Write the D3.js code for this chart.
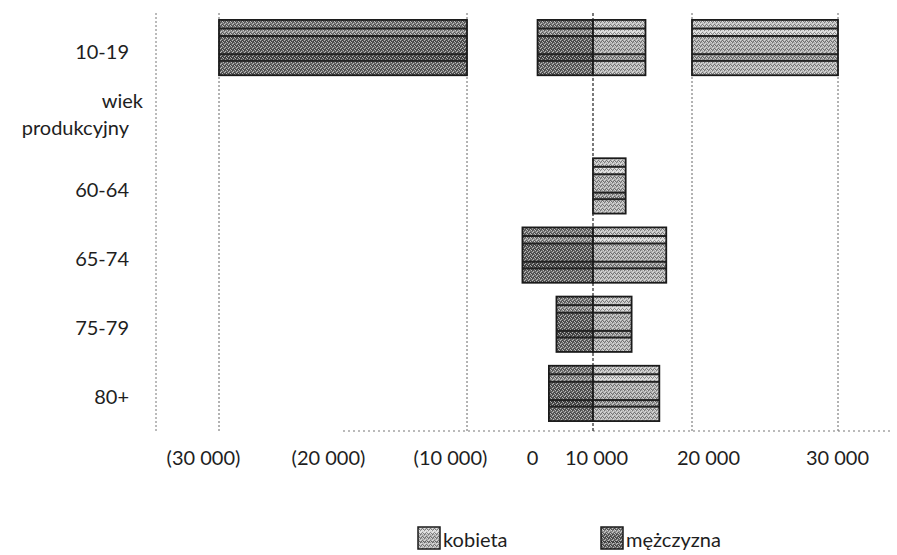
<!DOCTYPE html>
<html>
<head>
<meta charset="utf-8">
<script src="https://cdn.jsdelivr.net/npm/d3@7"></script>
<style>
  html, body { margin: 0; padding: 0; background: #fff; }
  svg { display: block; }
  text { font-family: Lato, "Open Sans", sans-serif; fill: #1e1e1e; }
</style>
</head>
<body>
<svg id="chart" width="897" height="555"></svg>
<script>
// ---- data ----
const categories = ["10-19", "wiek produkcyjny", "60-64", "65-74", "75-79", "80+"];
const maleValues = [4400, 0, 0, 5600, 2900, 3500];     // mężczyzna (left)
const femaleValues = [5300, 0, 3300, 7400, 3900, 6700]; // kobieta (right)
// extra (broken) segments drawn for 10-19
const extraCategory = ["10-19", "10-19"];
const extraSeries = ["mężczyzna", "kobieta"];
const extraFrom = [10000, 10000];
const extraTo = [30000, 30000];
const tickValues = [-30000, -20000, -10000, 0, 10000, 20000, 30000];
const tickLabels = ["(30 000)", "(20 000)", "(10 000)", "0", "10 000", "20 000", "30 000"];
const gridValues = [10000, 30000];
const seriesNames = ["kobieta", "mężczyzna"];

// ---- layout ----
const W = 897, H = 555;
const plotLeft = 156, plotTop = 13, plotBottom = 431;
const svg = d3.select("#chart");

const xL = d3.scaleLinear().domain([0, 10000, 30000]).range([593, 467, 219]);
const xR = d3.scaleLinear().domain([0, 10000, 30000]).range([593, 692, 838]);
const xTick = d3.scaleLinear().domain(tickValues).range([203, 328, 450, 532, 596, 708, 837]);
const y = d3.scaleBand().domain(categories).range([plotTop, 428]).paddingInner(0.2).paddingOuter(0.1);

// texture pattern
const defs = svg.append("defs");
const pat = defs.append("pattern").attr("id", "dither")
  .attr("patternUnits", "userSpaceOnUse").attr("width", 4).attr("height", 4);
[[0,0],[2,1],[1,3],[3,2]].forEach(p => pat.append("rect").attr("x", p[0]).attr("y", p[1])
  .attr("width", 1).attr("height", 1).attr("fill", "#fff").attr("opacity", 0.55));
[[2,0],[0,2],[3,1],[1,1]].forEach(p => pat.append("rect").attr("x", p[0]).attr("y", p[1])
  .attr("width", 1).attr("height", 1).attr("fill", "#000").attr("opacity", 0.35));

const bandFr = [0, 0.155, 0.29, 0.62, 0.74, 1];
const shades = {
  "mężczyzna": ["#747474", "#8c8c8c", "#5f5f5f", "#505050", "#676767"],
  "kobieta":   ["#bcbcbc", "#d2d2d2", "#a9a9a9", "#979797", "#b2b2b2"]
};

// grid lines
const dashGray = "2,2";
svg.append("line").attr("x1", plotLeft).attr("x2", plotLeft)
  .attr("y1", plotTop).attr("y2", plotBottom)
  .attr("stroke", "#777").attr("stroke-width", 1).attr("stroke-dasharray", dashGray);
gridValues.forEach(v => {
  [xL(v), xR(v)].forEach(xx => {
    svg.append("line").attr("x1", xx).attr("x2", xx)
      .attr("y1", plotTop).attr("y2", plotBottom)
      .attr("stroke", "#666").attr("stroke-width", 1).attr("stroke-dasharray", dashGray);
  });
});
svg.append("line").attr("x1", xL(20000)).attr("x2", W - 7)
  .attr("y1", plotBottom).attr("y2", plotBottom)
  .attr("stroke", "#777").attr("stroke-width", 1).attr("stroke-dasharray", "2,3");

function drawBar(x0, x1, yTop, h, series) {
  const g = svg.append("g");
  const left = Math.min(x0, x1), wdt = Math.abs(x1 - x0);
  if (wdt <= 0) return;
  for (let k = 0; k < 5; k++) {
    g.append("rect").attr("x", left).attr("y", yTop + bandFr[k] * h)
      .attr("width", wdt).attr("height", (bandFr[k + 1] - bandFr[k]) * h)
      .attr("fill", shades[series][k]);
  }
  g.append("rect").attr("x", left).attr("y", yTop).attr("width", wdt).attr("height", h)
    .attr("fill", "url(#dither)");
  for (let k = 1; k < 5; k++) {
    g.append("rect").attr("x", left).attr("y", yTop + bandFr[k] * h - 1)
      .attr("width", wdt).attr("height", 2).attr("fill", "#222");
  }
  g.append("rect").attr("x", left).attr("y", yTop).attr("width", wdt).attr("height", h)
    .attr("fill", "none").attr("stroke", "#1a1a1a").attr("stroke-width", 1.8);
}

// bars
categories.forEach((c, i) => {
  const yt = y(c), h = y.bandwidth();
  drawBar(xL(0), xL(maleValues[i]), yt, h, "mężczyzna");
  drawBar(xR(0), xR(femaleValues[i]), yt, h, "kobieta");
});
extraCategory.forEach((c, i) => {
  const sc = extraSeries[i] === "mężczyzna" ? xL : xR;
  drawBar(sc(extraFrom[i]), sc(extraTo[i]), y(c), y.bandwidth(), extraSeries[i]);
});

// center line
svg.append("line").attr("x1", xL(0)).attr("x2", xL(0))
  .attr("y1", plotTop).attr("y2", plotBottom)
  .attr("stroke", "#222").attr("stroke-width", 1.2).attr("stroke-dasharray", "3,2");

// y labels
categories.forEach(c => {
  const cy = y(c) + y.bandwidth() / 2;
  if (c === "wiek produkcyjny") {
    svg.append("text").attr("x", 143).attr("y", cy - 17).attr("text-anchor", "end")
      .attr("dominant-baseline", "central").attr("font-size", 20).text("wiek");
    svg.append("text").attr("x", 129).attr("y", cy + 10).attr("text-anchor", "end")
      .attr("dominant-baseline", "central").attr("font-size", 20).text("produkcyjny");
  } else {
    svg.append("text").attr("x", 129).attr("y", cy + 3).attr("text-anchor", "end")
      .attr("dominant-baseline", "central").attr("font-size", 20).text(c);
  }
});

// x tick labels
const axisG = svg.append("g").attr("transform", "translate(0,458)")
  .call(d3.axisBottom(xTick).tickValues(tickValues).tickSize(0)
    .tickFormat((d, i) => tickLabels[i]));
axisG.select(".domain").remove();
axisG.selectAll("text").attr("y", 0).attr("dy", "0.35em")
  .attr("font-size", 20).attr("font-family", "Lato, 'Open Sans', sans-serif").attr("fill", "#1e1e1e");

// legend
const legX = [418, 601];
seriesNames.forEach((s, i) => {
  const g = svg.append("g");
  const lx = legX[i], ly = 527, sz = 22;
  for (let k = 0; k < 5; k++) {
    g.append("rect").attr("x", lx).attr("y", ly + bandFr[k] * sz).attr("width", sz)
      .attr("height", (bandFr[k + 1] - bandFr[k]) * sz).attr("fill", shades[s][k]);
  }
  g.append("rect").attr("x", lx).attr("y", ly).attr("width", sz).attr("height", sz)
    .attr("fill", "url(#dither)").attr("stroke", "#1a1a1a").attr("stroke-width", 1.5);
  g.append("text").attr("x", lx + sz + 3).attr("y", ly + sz / 2 + 1)
    .attr("dominant-baseline", "central").attr("font-size", 20).text(s);
});
</script>
</body>
</html>
